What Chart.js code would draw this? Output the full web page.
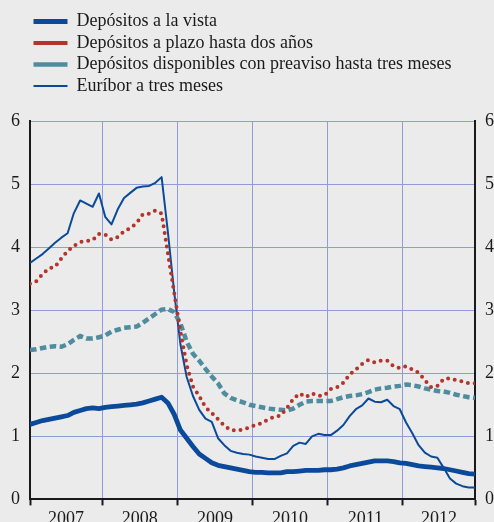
<!DOCTYPE html>
<html>
<head>
<meta charset="UTF-8">
<script src="https://cdn.jsdelivr.net/npm/chart.js@4.4.0/dist/chart.umd.min.js"></script>
<style>
  html, body { margin: 0; padding: 0; background: #ebebeb; overflow: hidden; }
  #wrap { width: 504px; height: 533px; position: relative; }
</style>
</head>
<body>
<div id="wrap"><canvas id="grafico"></canvas></div>
<script>
// tipos mensuales, ene 2007 - dic 2012
var years = ['2007', '2008', '2009', '2010', '2011', '2012'];

var vista = [
  1.19, 1.22, 1.25, 1.27, 1.29, 1.31, 1.33, 1.38, 1.41, 1.44, 1.45, 1.44,
  1.46, 1.47, 1.48, 1.49, 1.50, 1.51, 1.53, 1.56, 1.59, 1.62, 1.53, 1.35,
  1.10, 0.97, 0.84, 0.72, 0.65, 0.58, 0.54, 0.52, 0.50, 0.48, 0.46, 0.44,
  0.43, 0.43, 0.42, 0.42, 0.42, 0.44, 0.44, 0.45, 0.46, 0.46, 0.46, 0.47,
  0.47, 0.48, 0.50, 0.53, 0.55, 0.57, 0.59, 0.61, 0.61, 0.61, 0.60, 0.58,
  0.57, 0.55, 0.53, 0.52, 0.51, 0.50, 0.49, 0.47, 0.45, 0.43, 0.41, 0.40
];
var plazo = [
  3.42, 3.46, 3.57, 3.66, 3.69, 3.82, 3.94, 4.02, 4.08, 4.10, 4.11, 4.21,
  4.20, 4.12, 4.16, 4.25, 4.30, 4.38, 4.52, 4.53, 4.58, 4.53, 3.90, 3.28,
  2.66, 2.13, 1.79, 1.64, 1.46, 1.37, 1.27, 1.17, 1.10, 1.09, 1.11, 1.14,
  1.18, 1.21, 1.27, 1.31, 1.33, 1.45, 1.59, 1.68, 1.62, 1.68, 1.64, 1.65,
  1.75, 1.78, 1.85, 1.98, 2.06, 2.15, 2.21, 2.17, 2.20, 2.20, 2.11, 2.08,
  2.11, 2.06, 2.01, 1.89, 1.78, 1.80, 1.91, 1.92, 1.89, 1.87, 1.84, 1.84
];
var preaviso = [
  2.37, 2.38, 2.40, 2.42, 2.43, 2.42, 2.46, 2.53, 2.59, 2.55, 2.55, 2.57,
  2.60, 2.66, 2.69, 2.72, 2.73, 2.74, 2.80, 2.87, 2.94, 3.01, 3.02, 2.97,
  2.79, 2.50, 2.31, 2.20, 2.07, 1.95, 1.84, 1.68, 1.61, 1.57, 1.54, 1.50,
  1.48, 1.46, 1.44, 1.43, 1.42, 1.41, 1.44, 1.50, 1.55, 1.56, 1.56, 1.56,
  1.56, 1.59, 1.62, 1.64, 1.65, 1.67, 1.70, 1.74, 1.76, 1.77, 1.79, 1.80,
  1.82, 1.81, 1.79, 1.76, 1.74, 1.72, 1.71, 1.69, 1.66, 1.64, 1.62, 1.61
];
var euribor = [
  3.75, 3.82, 3.89, 3.98, 4.07, 4.15, 4.22, 4.54, 4.74, 4.69, 4.64, 4.85,
  4.48, 4.36, 4.60, 4.78, 4.86, 4.94, 4.96, 4.97, 5.02, 5.11, 4.24, 3.29,
  2.46, 1.94, 1.64, 1.42, 1.28, 1.23, 0.97, 0.86, 0.77, 0.74, 0.72, 0.71,
  0.68, 0.66, 0.64, 0.64, 0.69, 0.73, 0.85, 0.90, 0.88, 1.00, 1.04, 1.02,
  1.02, 1.09, 1.18, 1.32, 1.43, 1.49, 1.60, 1.55, 1.54, 1.58, 1.48, 1.43,
  1.22, 1.05, 0.86, 0.74, 0.68, 0.66, 0.50, 0.33, 0.25, 0.21, 0.19, 0.19
];

var azul = '#0b4a9a';
var rojo = '#b3342b';
var verde = '#4f8c9d';
var rejilla = '#8e9dd9';
var negro = '#1a1a1a';

var ultimo = vista.length - 1;

function puntos(arr) {
  return arr.map(function (v, i) { return { x: i, y: v }; });
}

// limites de cada año y centro para la etiqueta
function ticksAnios() {
  var t = [0];
  for (var k = 0; k < years.length; k++) {
    var a = Math.max(k * 12 - 0.5, 0);
    var b = Math.min(k * 12 + 11.5, ultimo);
    t.push((a + b) / 2);
    t.push(b);
  }
  return t;
}

Chart.defaults.font.family = "'Liberation Serif', 'Times New Roman', serif";
Chart.defaults.font.size = 18;
Chart.defaults.color = negro;

new Chart(document.getElementById('grafico'), {
  type: 'line',
  data: {
    datasets: [{
      label: 'Depósitos a la vista',
      data: puntos(vista),
      borderColor: azul,
      borderWidth: 4.8,
      borderJoinStyle: 'round'
    }, {
      label: 'Depósitos a plazo hasta dos años',
      data: puntos(plazo),
      borderColor: rojo,
      borderWidth: 4,
      borderDash: [0, 6.8],
      borderCapStyle: 'round'
    }, {
      label: 'Depósitos disponibles con preaviso hasta tres meses',
      data: puntos(preaviso),
      borderColor: verde,
      borderWidth: 4.5,
      borderDash: [6.5, 3.5]
    }, {
      label: 'Euríbor a tres meses',
      data: puntos(euribor),
      borderColor: azul,
      borderWidth: 2,
      borderJoinStyle: 'round'
    }]
  },
  options: {
    responsive: true,
    maintainAspectRatio: false,
    animation: false,
    layout: { padding: { top: 9, left: 1, right: 0, bottom: 0 } },
    elements: { point: { radius: 0 }, line: { tension: 0, fill: false } },
    plugins: {
      tooltip: { enabled: false },
      legend: {
        position: 'top',
        align: 'start',
        fullSize: false,
        labels: {
          usePointStyle: true,
          pointStyle: 'line',
          pointStyleWidth: 34,
          padding: 3.5,
          color: negro,
          font: { size: 18 }
        }
      }
    },
    scales: {
      x: {
        type: 'linear',
        min: 0,
        max: ultimo,
        afterBuildTicks: function (scale) {
          scale.ticks = ticksAnios().map(function (v) { return { value: v }; });
        },
        ticks: {
          autoSkip: false,
          maxRotation: 0,
          padding: 3,
          color: negro,
          callback: function (value, index) {
            return index % 2 === 1 ? years[(index - 1) / 2] : '';
          }
        },
        grid: {
          color: function (ctx) {
            if (ctx.index % 2 === 1 || ctx.index === 0 || ctx.index === years.length * 2) return 'transparent';
            return rejilla;
          },
          tickColor: function (ctx) {
            return ctx.index % 2 === 1 ? 'transparent' : negro;
          },
          tickLength: 6,
          tickWidth: 2
        },
        border: { color: negro, width: 2 }
      },
      xTop: {
        type: 'linear',
        position: 'top',
        display: true,
        ticks: { display: false },
        grid: { display: false, drawTicks: true, tickLength: 16 },
        border: { display: false }
      },
      y: {
        position: 'left',
        min: 0,
        max: 6,
        ticks: { stepSize: 1, padding: 10, color: negro },
        grid: {
          drawTicks: false,
          color: function (ctx) { return ctx.tick && ctx.tick.value === 0 ? 'transparent' : rejilla; }
        },
        border: { color: negro, width: 2 }
      },
      y2: {
        position: 'right',
        min: 0,
        max: 6,
        ticks: { stepSize: 1, padding: 10, color: negro },
        grid: { display: false, drawTicks: false },
        border: { display: true, color: negro, width: 2 }
      }
    }
  }
});
</script>
</body>
</html>
